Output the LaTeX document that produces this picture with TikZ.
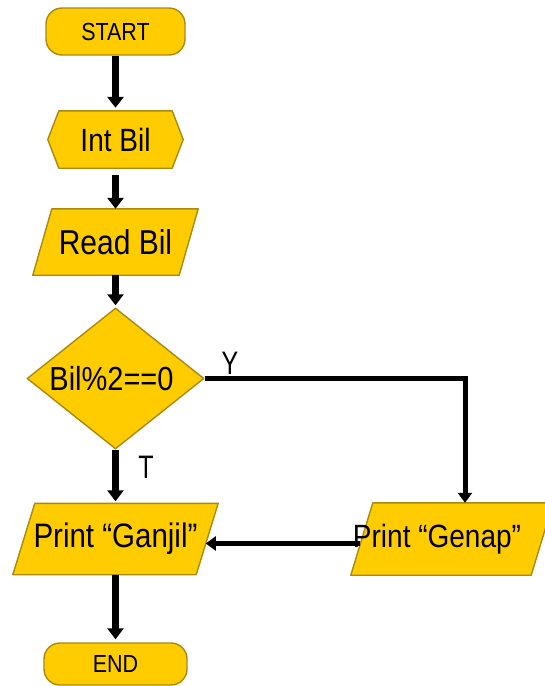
\documentclass[tikz,border=0pt]{standalone}
\usepackage{fontspec}
\setmainfont{Liberation Sans}
\usetikzlibrary{arrows.meta,shapes.geometric,backgrounds,calc}
\definecolor{gold}{RGB}{255,204,0}
\definecolor{rim}{RGB}{168,138,16}
% slightly tall lettering
\newcommand{\tallbox}[1]{\scalebox{1}[1.15]{#1}}
\newcommand{\tallerbox}[1]{\scalebox{1}[1.3]{#1}}

\begin{document}
\begin{tikzpicture}[x=1pt,y=-1pt,
  lbl/.style={inner sep=0pt, font=\fontsize{28}{30}\selectfont},
  shp/.style={fill=gold, draw=rim, line width=1.4pt, line join=round},
  term/.style={shp, rectangle, rounded corners=16pt, inner sep=0pt,
               font=\fontsize{21.5}{24}\selectfont},
  decision/.style={shp, diamond, inner sep=0pt, aspect=1.255,
               minimum width=177pt, minimum height=141pt},
  flow/.style={line width=7pt, -{Triangle[width=16pt,length=11pt]}},
  sideflow/.style={line width=5pt, -{Triangle[width=14pt,length=10pt]}},
  branch/.style={inner sep=0pt, font=\fontsize{25}{27}\selectfont},
]
\useasboundingbox (0,0) rectangle (544,686);

% terminals and decision
\node[term, minimum width=139pt, minimum height=47pt] (start) at (115.5,31.5) {\tallbox{START}};
\node[decision] (dia) at (115.5,378.5) {};
\node[lbl, font=\fontsize{29}{30}\selectfont] (cond) at (111.5,379) {\tallbox{Bil\%2==0}};
\node[term, minimum width=143pt, minimum height=42pt] (end) at (115.5,664) {\tallbox{END}};

% text of the remaining blocks
\node[lbl, minimum width=113pt, minimum height=57pt] (int) at (115.5,139.5) {\tallbox{Int Bil}};
\node[lbl, font=\fontsize{30}{32}\selectfont, minimum width=146pt, minimum height=66pt] (read) at (115.5,242) {\tallbox{Read Bil}};
\node[lbl, font=\fontsize{29.5}{31}\selectfont, minimum width=183pt, minimum height=71pt] (ganjil) at (115.5,539) {\tallbox{Print “Ganjil”}};
\node[inner sep=0pt, minimum width=180pt, minimum height=72pt] (genapbox) at (452,539) {};
\node[lbl] (genap) at (437,539) {\tallbox{Print “Genap”}};

% block outlines behind the text
\begin{scope}[on background layer]
  \filldraw[shp] (int.north west) -- (int.north east) -- ($(int.east)+(11,0)$)
    -- (int.south east) -- (int.south west) -- ($(int.west)+(-11,0)$) -- cycle;
  \filldraw[shp] ($(read.north west)+(9.5,0)$) -- ($(read.north east)+(9.5,0)$)
    -- ($(read.south east)+(-9.5,0)$) -- ($(read.south west)+(-9.5,0)$) -- cycle;
  \filldraw[shp] ($(ganjil.north west)+(11,0)$) -- ($(ganjil.north east)+(11,0)$)
    -- ($(ganjil.south east)+(-11,0)$) -- ($(ganjil.south west)+(-11,0)$) -- cycle;
  \filldraw[shp] ($(genapbox.north west)+(11,0)$) -- ($(genapbox.north east)+(11,0)$)
    -- ($(genapbox.south east)+(-11,0)$) -- ($(genapbox.south west)+(-11,0)$) -- cycle;
\end{scope}

% main flow
\draw[flow, shorten >=3pt] (start.south) -- (int.north);
\draw[flow, shorten <=7pt] (int.south) -- (read.north);
\draw[flow, shorten >=2pt] (read.south) -- (dia.north);
\draw[flow, shorten >=2pt] (dia.south) -- (ganjil.north);
\draw[flow, shorten >=3pt] (ganjil.south) -- (end.north);

% branches
\draw[sideflow] (dia.east) -| ([xshift=13pt]genapbox.north);
\draw[sideflow, line width=5.5pt] ($(genapbox.west)+(-1.4,4.5)$) -- ($(ganjil.east)+(-1.4,4.5)$);

\node[branch] (ylab) at (230,363) {\tallerbox{Y}};
\node[branch] (tlab) at (146,467) {\tallerbox{T}};
\end{tikzpicture}
\end{document}
